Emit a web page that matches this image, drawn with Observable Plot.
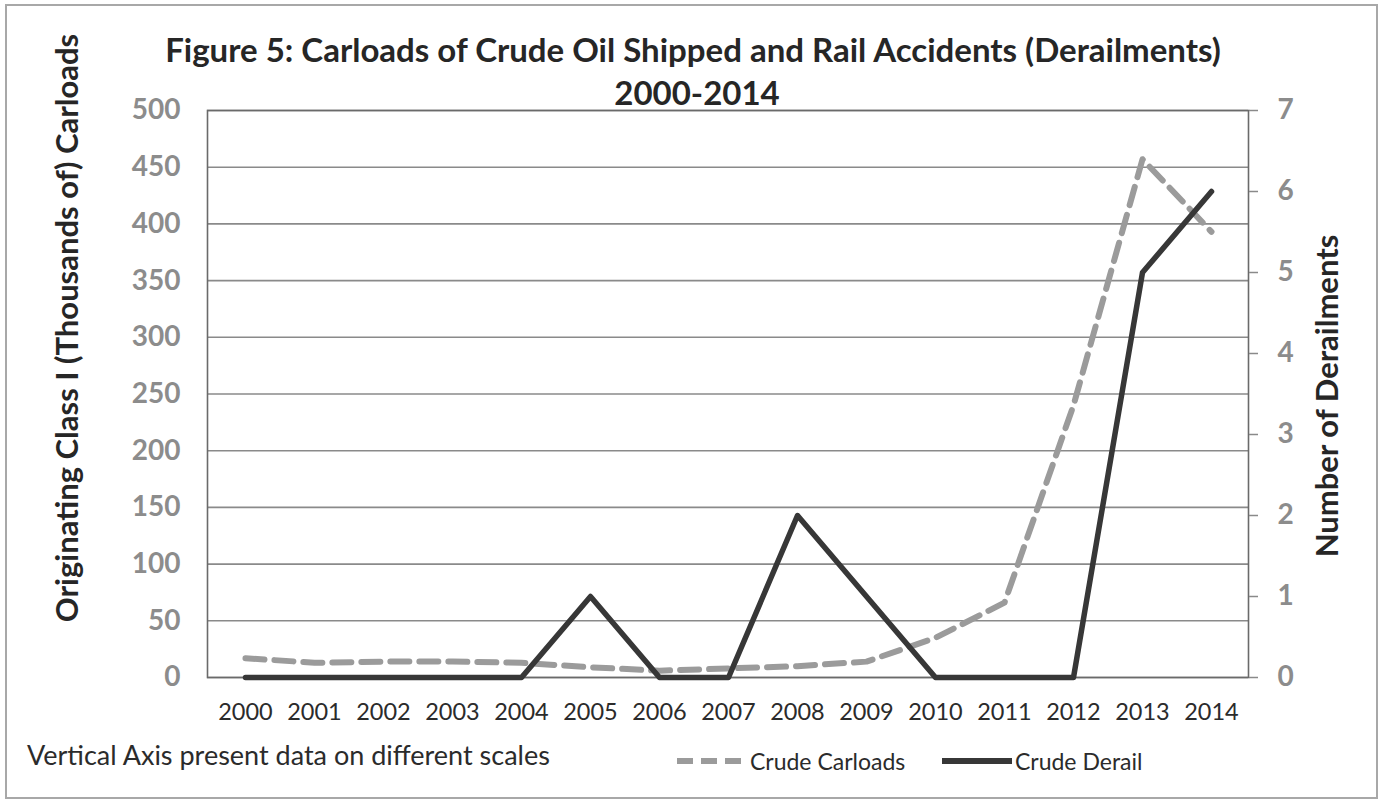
<!DOCTYPE html>
<html>
<head>
<meta charset="utf-8">
<script src="https://cdn.jsdelivr.net/npm/d3@7"></script>
<script src="https://cdn.jsdelivr.net/npm/@observablehq/plot@0.6"></script>
<style>
  html, body { margin: 0; padding: 0; background: #fff; }
  #wrap { position: relative; width: 1382px; height: 803px; overflow: hidden; font-family: Lato, "Open Sans", sans-serif; }
  #border { position: absolute; left: 5px; top: 4px; width: 1369px; height: 791px; border: 2px solid #a8a8a8; pointer-events: none; }
  #chart { position: absolute; left: 0; top: 0; }
  #foot { position: absolute; left: 0; top: 735px; width: 1382px; height: 68px; color: #2b2b2b; }
  #note { position: absolute; left: 27px; top: 3px; font-size: 27px; }
  .leg { position: absolute; top: 12px; font-size: 23px; display: flex; align-items: center; }
  .leg svg { margin-right: 3px; }
</style>
</head>
<body>
<div id="wrap">
  <div id="chart"></div>
  <div id="foot">
    <div id="note"></div>
    <div class="leg" id="leg1" style="left:677px"></div>
    <div class="leg" id="leg2" style="left:942px"></div>
  </div>
  <div id="border"></div>
</div>
<script>
const years = [2000, 2001, 2002, 2003, 2004, 2005, 2006, 2007, 2008, 2009, 2010, 2011, 2012, 2013, 2014];
const carloads = [17, 13, 14, 14, 13, 9, 6, 8, 10, 14, 35, 66, 240, 457, 393];
const derailments = [0, 0, 0, 0, 0, 1, 0, 0, 2, 1, 0, 0, 0, 5, 6];
const leftTicks = [0, 50, 100, 150, 200, 250, 300, 350, 400, 450, 500];
const rightTicks = [0, 1, 2, 3, 4, 5, 6, 7];
const titleLines = ["Figure 5: Carloads of Crude Oil Shipped and Rail Accidents (Derailments)", "2000-2014"];
const leftTitle = "Originating Class I (Thousands of) Carloads";
const rightTitle = "Number of Derailments";
const note = "Vertical Axis present data on different scales";
const seriesNames = ["Crude Carloads", "Crude Derail"];

const leftMax = 500, rightMax = 7;
const k = leftMax / rightMax;
const rows = years.map((yr, i) => ({year: yr, carloads: carloads[i], derail: derailments[i]}));

const plot = Plot.plot({
  width: 1382,
  height: 735,
  marginLeft: 207,
  marginRight: 134,
  marginTop: 110,
  marginBottom: 58,
  style: {fontFamily: "Lato, 'Open Sans', sans-serif", background: "transparent"},
  x: {type: "point", domain: years, padding: 0.45},
  y: {domain: [0, leftMax]},
  marks: [
    Plot.ruleY(leftTicks, {stroke: "#8a8a8a", strokeWidth: 1.6}),
    Plot.frame({stroke: "#6a6a6a", strokeWidth: 1.6}),
    Plot.axisY(leftTicks, {anchor: "left", tickSize: 0, tickPadding: 27, fontSize: 28, fontWeight: "bold", fill: "#8c8c8c", label: null}),
    Plot.axisY(rightTicks.map(d => d * k), {anchor: "right", tickSize: 9, tickPadding: 20, stroke: "#8a8a8a", strokeWidth: 1.5, tickFormat: d => String(Math.round(d / k)), fontSize: 28, fontWeight: "bold", fill: "#8c8c8c", label: null}),
    Plot.axisX(years, {tickSize: 0, tickPadding: 26, fontSize: 23.5, fill: "#2b2b2b", tickFormat: d => String(d), label: null}),
    Plot.lineY(rows, {x: "year", y: "carloads", stroke: "#9b9b9b", strokeWidth: 6, strokeDasharray: "19,10"}),
    Plot.lineY(rows, {x: "year", y: d => d.derail * k, stroke: "#373737", strokeWidth: 5.5}),
    Plot.text([titleLines[0]], {frameAnchor: "top", dx: -35, dy: -72, fontSize: 33, fontWeight: "bold", fill: "#262626"}),
    Plot.text([titleLines[1]], {frameAnchor: "top", dx: -31, dy: -29, fontSize: 33, fontWeight: "bold", fill: "#262626"}),
    Plot.text([leftTitle], {frameAnchor: "left", rotate: -90, textAnchor: "middle", dx: -139, dy: -66, fontSize: 31, fontWeight: "bold", fill: "#262626"}),
    Plot.text([rightTitle], {frameAnchor: "right", rotate: -90, textAnchor: "middle", dx: 80, dy: 2, fontSize: 31, fontWeight: "bold", fill: "#262626"})
  ]
});
document.getElementById("chart").appendChild(plot);

document.getElementById("note").textContent = note;
const ns = "http://www.w3.org/2000/svg";
function swatch(el, name, dash, color, w) {
  const s = document.createElementNS(ns, "svg");
  s.setAttribute("width", 70); s.setAttribute("height", 12);
  const l = document.createElementNS(ns, "line");
  l.setAttribute("x1", 0); l.setAttribute("x2", 70); l.setAttribute("y1", 6); l.setAttribute("y2", 6);
  l.setAttribute("stroke", color); l.setAttribute("stroke-width", w);
  if (dash) l.setAttribute("stroke-dasharray", dash);
  s.appendChild(l);
  el.appendChild(s);
  const t = document.createElement("span"); t.textContent = name; el.appendChild(t);
}
swatch(document.getElementById("leg1"), seriesNames[0], "16,8", "#9b9b9b", 6);
swatch(document.getElementById("leg2"), seriesNames[1], null, "#373737", 6);
</script>
</body>
</html>
